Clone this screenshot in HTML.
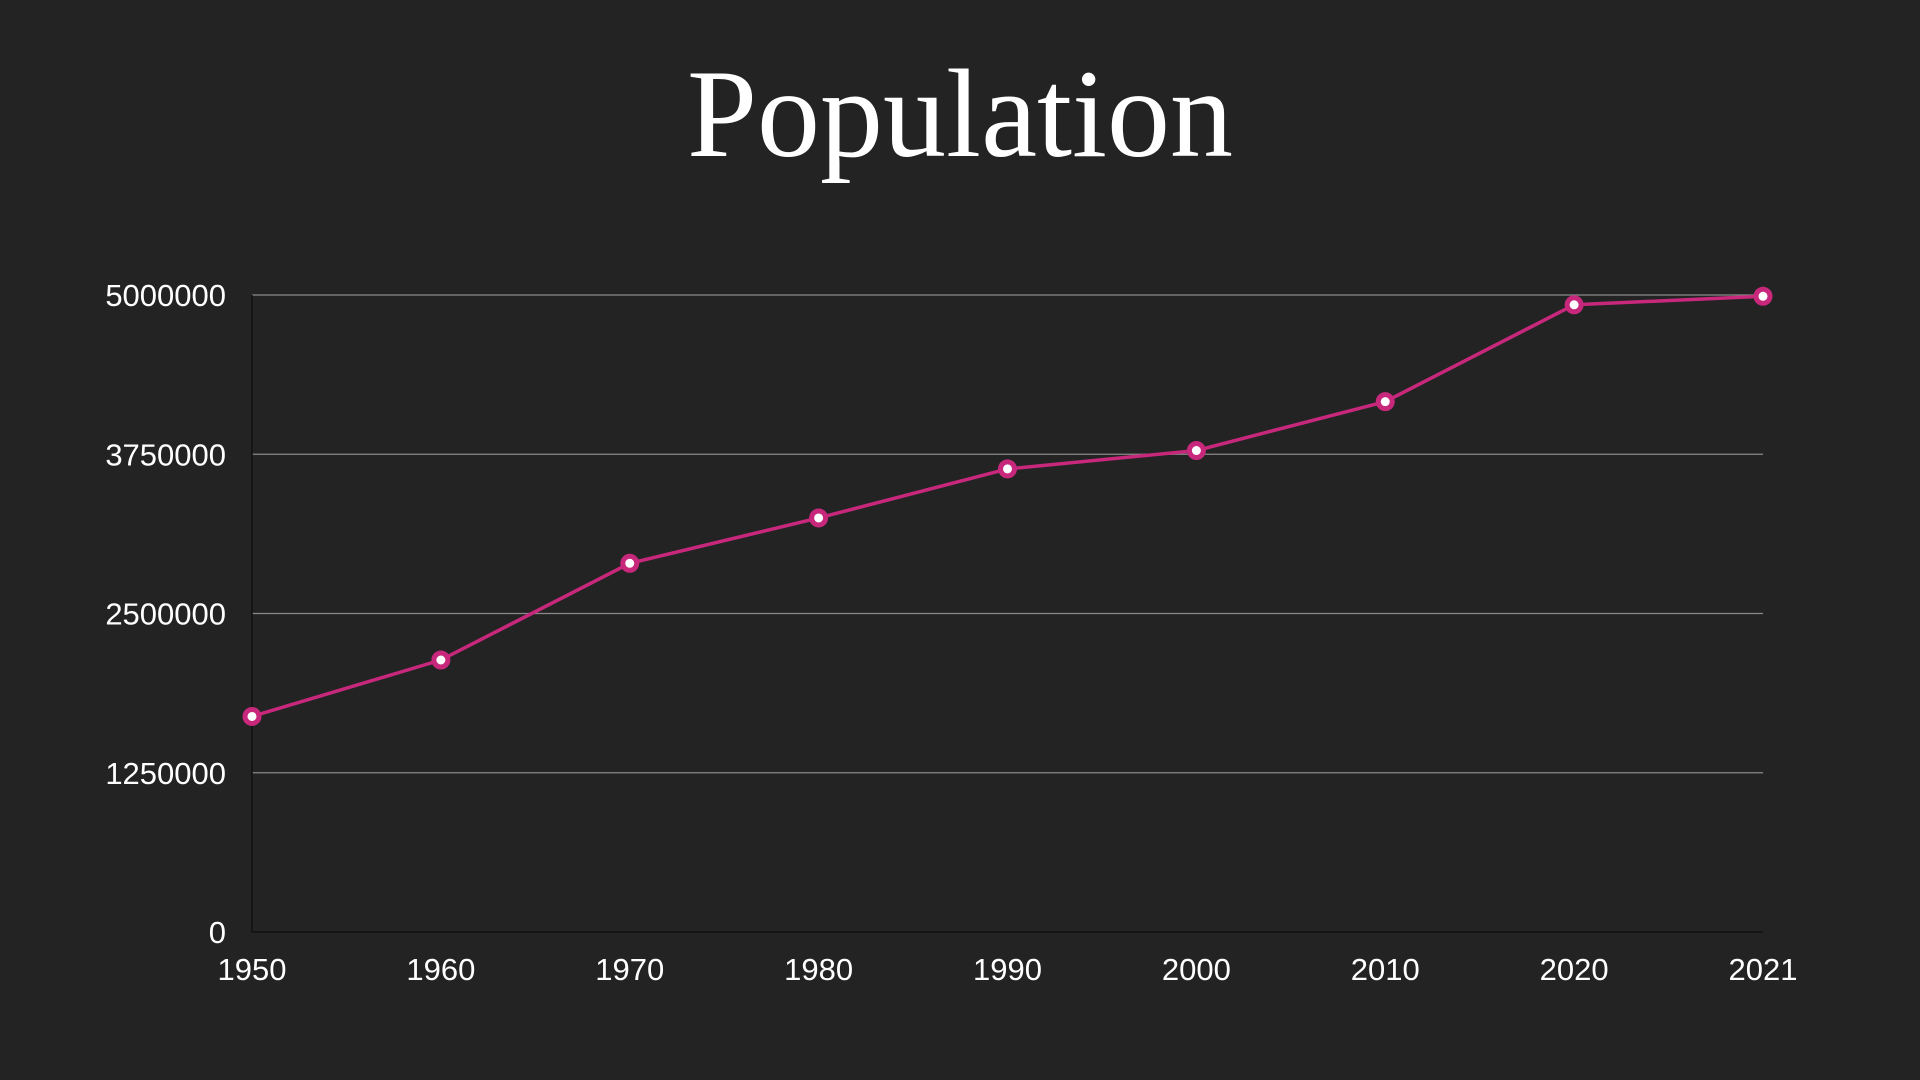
<!DOCTYPE html>
<html><head><meta charset="utf-8"><style>
html,body{margin:0;padding:0;background:#232323;}
svg{display:block}
</style></head><body>
<svg id="chart" width="1920" height="1080" viewBox="0 0 1920 1080" xmlns="http://www.w3.org/2000/svg">
<rect width="1920" height="1080" fill="#232323"/>
<text x="960" y="156" text-anchor="middle" fill="#ffffff" font-family="Liberation Serif, serif" font-size="126">Population</text>
<g id="grid"></g><g id="axes"></g><g id="series"></g>
</svg>
<script>
const categories = ["1950","1960","1970","1980","1990","2000","2010","2020","2021"];
const values = [1692000,2135000,2894000,3250000,3635000,3779000,4163000,4923000,4990000];
const yTicks = [0,1250000,2500000,3750000,5000000];
const yTickLabels = ["0","1250000","2500000","3750000","5000000"];
const L=252,R=1763,T=295,B=932,YMAX=5000000;
const NS="http://www.w3.org/2000/svg";
function x(i){return L+(R-L)*i/(categories.length-1);}
function y(v){return B-(B-T)*v/YMAX;}
function mk(tag,attrs,parent){const e=document.createElementNS(NS,tag);for(const k in attrs)e.setAttribute(k,attrs[k]);parent.appendChild(e);return e;}
const grid=document.getElementById('grid'),axes=document.getElementById('axes'),series=document.getElementById('series');
yTicks.forEach((t,i)=>{
  if(t>0){const g=mk('line',{x1:L,x2:R,y1:y(t),y2:y(t),stroke:'#8a8a8a','stroke-width':1.3},grid);
  
  }
  const tx=mk('text',{x:226,y:y(t)+11,'text-anchor':'end',fill:'#fff','font-family':'Liberation Sans, sans-serif','font-size':31},axes);
  tx.textContent=yTickLabels[i];
  
  
});
const ya=mk('line',{x1:L,x2:L,y1:T,y2:B,stroke:'#111','stroke-width':1.5},axes);


const xa=mk('line',{x1:L,x2:R,y1:B,y2:B,stroke:'#111','stroke-width':1.5},axes);


categories.forEach((c,i)=>{
  const tx=mk('text',{x:x(i),y:980,'text-anchor':'middle',fill:'#fff','font-family':'Liberation Sans, sans-serif','font-size':31},axes);
  tx.textContent=c;
  
  
});
const pts=values.map((v,i)=>x(i)+','+y(v)).join(' ');
const pl=mk('polyline',{points:pts,fill:'none',stroke:'#c8287c','stroke-width':3.5,'stroke-linejoin':'round'},series);


values.forEach((v,i)=>{
  const c=mk('circle',{cx:x(i),cy:y(v),r:7,fill:'#fff',stroke:'#c8287c','stroke-width':5},series);
  
  
});
</script>
</body></html>
